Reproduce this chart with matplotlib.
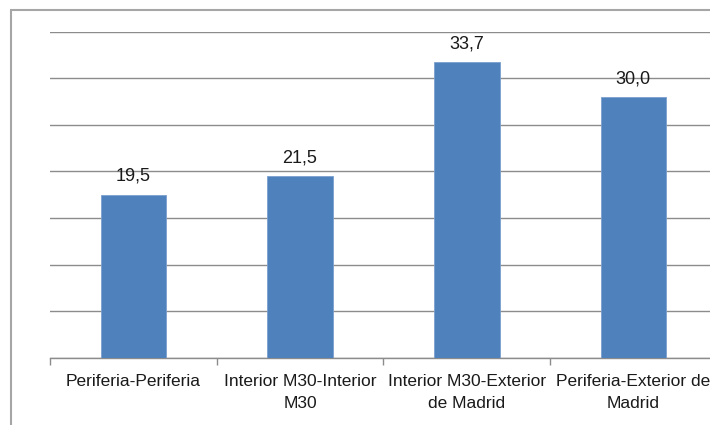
import matplotlib
matplotlib.use("Agg")
import matplotlib.pyplot as plt
from matplotlib.patches import Rectangle
import numpy as np

plt.rcParams['font.family'] = ['Liberation Sans', 'DejaVu Sans']

categories = ["Periferia-Periferia", "Interior M30-Interior\nM30",
              "Interior M30-Exterior\nde Madrid", "Periferia-Exterior de\nMadrid"]
values = [19.5, 21.5, 33.7, 30.0]
value_labels = ["19,5", "21,5", "33,7", "30,0"]

W, H = 710, 425
fig = plt.figure(figsize=(W / 100, H / 100), dpi=100)

# chart-area border (extends past the right and bottom edges)
fig.patches.append(Rectangle((11 / W, -0.1), 1.2, (H - 10) / H + 0.1,
                             transform=fig.transFigure, fill=False,
                             edgecolor="#A6A6A6", linewidth=1.5))

ax = fig.add_axes([50 / W, (H - 357.7) / H, 666.7 / W, 326 / H])

x = np.arange(len(categories))
ax.bar(x, values, width=0.394, color="#4F81BD", edgecolor="#7A9FCF",
       linewidth=0.6, zorder=3)

for xi, v, lab in zip(x, values, value_labels):
    ax.annotate(lab, (xi, v), xytext=(0, 10), textcoords="offset points",
                ha="center", va="baseline", fontsize=13, color="#1A1A1A")

ymin, ymax = 2, 37
ax.set_ylim(ymin, ymax)
ax.set_xlim(-0.5, len(categories) - 0.5)
ax.set_yticks(np.arange(ymin, ymax + 0.01, 5))
ax.yaxis.grid(True, color="#8C8C8C", linewidth=1.0)
ax.set_axisbelow(True)
ax.tick_params(axis="y", left=False, labelleft=False)

ax.set_xticks(x)
ax.set_xticklabels(categories, fontsize=12.5, color="#1A1A1A", linespacing=1.55)
ax.set_xticks(np.arange(-0.5, len(categories)), minor=True)
ax.tick_params(axis="x", which="major", length=0, pad=12)
ax.tick_params(axis="x", which="minor", length=5, width=1.0, color="#8C8C8C",
               direction="out")

for side in ("top", "right", "left"):
    ax.spines[side].set_visible(False)
ax.spines["bottom"].set_color("#8C8C8C")
ax.spines["bottom"].set_linewidth(1.0)

fig.savefig("out.png", dpi=100)
